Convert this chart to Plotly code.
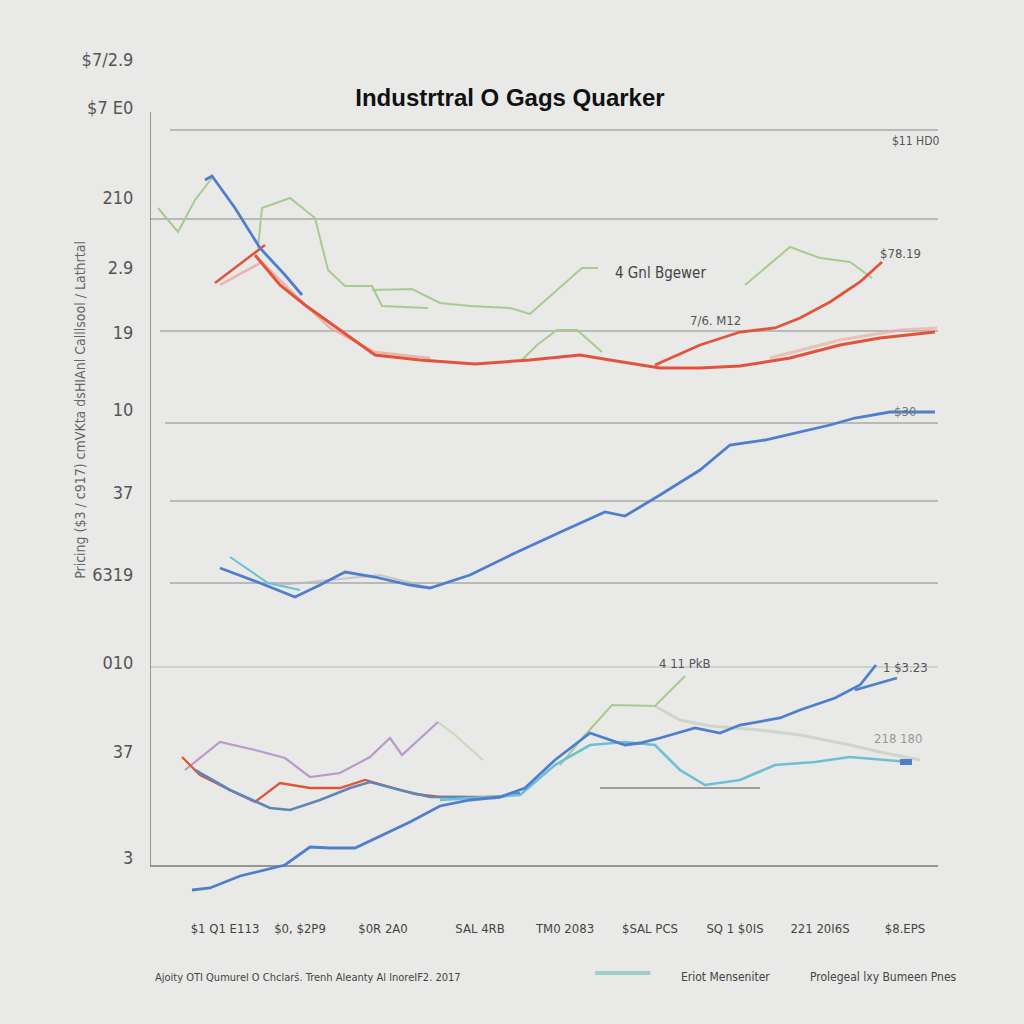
import plotly.graph_objects as go

# ---------------- data (x: period index, y: price index) ----------------
blue_top_x = [5.5, 6.2, 8.5, 11.0, 13.5, 15.2]
blue_top_y = [68.6, 69.0, 65.8, 61.8, 59.1, 57.1]

red_short_x = [6.5, 11.5]
red_short_y = [58.3, 62.1]

red_main_x = [10.5, 13.0, 15.5, 19.0, 22.5, 27.0, 32.5, 38.0, 43.0, 46.0, 51.0, 55.0, 59.0, 64.0, 69.0, 73.0, 78.5]
red_main_y = [61.1, 58.1, 56.1, 53.6, 51.1, 50.6, 50.2, 50.6, 51.1, 50.6, 49.8, 49.8, 50.0, 50.8, 52.1, 52.8, 53.4]

red_branch_x = [50.5, 55.0, 59.0, 62.5, 65.0, 68.0, 71.0, 73.2]
red_branch_y = [50.1, 52.1, 53.4, 53.8, 54.8, 56.4, 58.4, 60.4]

salmon_x = [7.0, 11.2, 15.0, 18.0, 22.5, 28.0]
salmon_y = [58.1, 60.4, 56.6, 53.8, 51.4, 50.8]
salmon_r_x = [62.0, 69.0, 75.0, 78.7]
salmon_r_y = [50.8, 52.6, 53.6, 53.8]

green_a_x = [0.8, 2.8, 4.5, 6.2]
green_a_y = [65.8, 63.4, 66.6, 68.8]
green_b_x = [10.8, 11.2, 14.0, 16.5, 17.8, 19.5, 22.2, 23.2, 27.8]
green_b_y = [61.8, 65.8, 66.8, 64.8, 59.6, 58.0, 58.0, 56.0, 55.8]
green_c_x = [22.2, 26.2, 29.0, 32.0, 36.0, 38.0, 39.8, 43.2, 44.8]
green_c_y = [57.6, 57.7, 56.3, 56.0, 55.8, 55.2, 56.8, 59.8, 59.8]
green_d_x = [37.0, 38.7, 40.7, 42.7, 45.2]
green_d_y = [50.4, 52.1, 53.6, 53.6, 51.4]
green_f_x = [59.5, 64.0, 67.0, 70.0, 72.2]
green_f_y = [58.1, 61.9, 60.8, 60.4, 58.8]

blue_mid_x = [7.0, 11.0, 14.5, 17.0, 19.5, 22.5, 26.0, 28.0, 32.0, 36.5, 41.5, 45.5, 47.5, 51.0, 55.0, 58.0, 61.5, 65.0, 68.0, 70.5, 74.0, 78.5]
blue_mid_y = [29.8, 28.3, 26.9, 28.1, 29.4, 28.9, 28.1, 27.8, 29.1, 31.3, 33.6, 35.4, 35.0, 37.1, 39.6, 42.1, 42.6, 43.4, 44.1, 44.8, 45.4, 45.4]
cyan_mid_x = [8.0, 11.8, 15.0]
cyan_mid_y = [30.9, 28.3, 27.6]
gray_mid_x = [13.0, 18.0, 23.0, 27.0]
gray_mid_y = [28.1, 28.6, 29.1, 28.1]

blue_bot_x = [4.2, 6.0, 9.0, 13.5, 16.0, 18.0, 20.5, 23.0, 26.0, 29.0, 32.0, 35.0, 37.5, 40.5, 44.0, 47.5, 49.0, 51.0, 54.5, 57.0, 59.0, 63.0, 65.0, 68.5, 71.0, 72.6]
blue_bot_y = [-2.4, -2.2, -1.0, 0.1, 1.9, 1.8, 1.8, 3.0, 4.4, 6.0, 6.6, 6.9, 7.8, 10.6, 13.3, 12.1, 12.3, 12.8, 13.8, 13.3, 14.1, 14.8, 15.6, 16.8, 18.1, 20.1]
blue_br_x = [70.5, 74.7]
blue_br_y = [17.6, 18.8]

red_bot_x = [3.2, 5.0, 8.0, 10.5, 13.0, 16.0, 19.0, 21.5, 24.0, 26.5, 29.0, 32.0, 34.7]
red_bot_y = [10.9, 9.1, 7.6, 6.4, 8.3, 7.8, 7.8, 8.6, 7.9, 7.2, 6.9, 6.9, 6.9]

steel_x = [4.5, 8, 12, 14, 17, 20, 22, 25, 28, 31, 34.5, 37]
steel_y = [9.6, 7.6, 5.8, 5.6, 6.6, 7.8, 8.4, 7.6, 6.9, 6.9, 6.8, 7.3]

purple_x = [3.5, 7, 10.5, 13.5, 16, 19, 22, 24, 25.2, 27, 28.8]
purple_y = [9.6, 12.4, 11.6, 10.8, 8.9, 9.3, 10.9, 12.8, 11.1, 12.8, 14.4]
pale_x = [28.8, 30.5, 33.3]
pale_y = [14.4, 13.1, 10.6]

teal_x = [29, 37, 40.5, 44, 47.5, 50.5, 53, 55.5, 59, 62.5, 66.5, 70, 73.5, 76]
teal_y = [6.6, 7.1, 10.1, 12.1, 12.4, 12.1, 9.6, 8.1, 8.6, 10.1, 10.4, 10.9, 10.6, 10.4]

green_bot_x = [41, 43.5, 46.2, 50.5, 53.5]
green_bot_y = [10.1, 13.1, 16.1, 16.0, 19.0]
faded_x = [50.5, 53, 56, 61, 65, 70, 73, 77]
faded_y = [16, 14.6, 14, 13.6, 13.1, 12.1, 11.4, 10.6]

dark_x = [45, 61]
dark_y = [7.8, 7.8]
blue_stub_x = [75, 76.2]
blue_stub_y = [10.4, 10.4]

x_tick_vals = [7.5, 15, 23.3, 33, 41.5, 50, 58.5, 67, 75.5]
x_tick_text = ["$1 Q1 E113", "$0, $2P9", "$0R 2A0", "SAL 4RB", "TM0 2083",
               "$SAL PCS", "SQ 1 $0IS", "221 20I6S", "$8.EPS"]
y_tick_vals = [80.6, 75.8, 66.8, 59.8, 53.3, 45.6, 37.3, 29.1, 20.3, 11.4, 0.8]
y_tick_text = ["$7/2.9", "$7 E0", "210", "2.9", "19", "10", "37", "6319", "010", "37", "3"]
grid_levels = [73.6, 64.7, 53.5, 44.3, 36.5, 28.3, 19.9]
grid_starts = [2, 0, 1, 1.5, 2, 2, -1]

# ---------------- figure ----------------
BLUE = "#4f7fcc"
RED = "#e1543b"
GREEN = "#a9cb8f"
SALMON = "#eaa89c"
PURPLE = "#b89acb"
TEAL = "#6cc0d6"
STEEL = "#5d87b6"

fig = go.Figure()


def add(x, y, color, width=2.6, opacity=1.0):
    fig.add_trace(go.Scatter(x=x, y=y, mode="lines", line=dict(color=color, width=width),
                             opacity=opacity, showlegend=False, hoverinfo="skip"))


add(green_a_x, green_a_y, GREEN, 2)
add(green_b_x, green_b_y, GREEN, 2)
add(green_c_x, green_c_y, GREEN, 2)
add(green_d_x, green_d_y, GREEN, 2)
add(green_f_x, green_f_y, GREEN, 2)
add(salmon_x, salmon_y, SALMON, 2.5, 0.8)
add(salmon_r_x, salmon_r_y, SALMON, 3, 0.6)
add(red_short_x, red_short_y, RED, 2.5)
add(blue_top_x, blue_top_y, BLUE, 2.8)
add(red_main_x, red_main_y, RED, 3)
add(red_branch_x, red_branch_y, RED, 2.8)

add(gray_mid_x, gray_mid_y, "#b9b9b9", 2, 0.7)
add(cyan_mid_x, cyan_mid_y, TEAL, 2)
add(blue_mid_x, blue_mid_y, BLUE, 2.8)

add(pale_x, pale_y, "#c9d9b9", 2)
add(purple_x, purple_y, PURPLE, 2.2)
add(red_bot_x, red_bot_y, RED, 2.3)
add(steel_x, steel_y, STEEL, 2.6)
add(faded_x, faded_y, "#c8d2c4", 3, 0.8)
add(dark_x, dark_y, "#555555", 1)
add(green_bot_x, green_bot_y, GREEN, 2)
add(teal_x, teal_y, TEAL, 2.6)
add(blue_bot_x, blue_bot_y, BLUE, 2.8)
add(blue_br_x, blue_br_y, BLUE, 2.8)
add(blue_stub_x, blue_stub_y, BLUE, 6)

shapes = []
for i, g in enumerate(grid_levels):
    shapes.append(dict(type="line", xref="x", yref="y", x0=grid_starts[i], x1=78.8, y0=g, y1=g,
                       line=dict(color="#8a8a8a" if i != 6 else "#b5b5b5", width=1.2), layer="below"))
shapes.append(dict(type="line", xref="x", yref="y", x0=0, x1=0, y0=0, y1=75.4,
                   line=dict(color="#7a7a7a", width=1.5), layer="below"))
shapes.append(dict(type="line", xref="x", yref="y", x0=0, x1=78.8, y0=0, y1=0,
                   line=dict(color="#7a7a7a", width=1.5), layer="below"))
shapes.append(dict(type="line", xref="paper", yref="paper", x0=0.565, x1=0.635, y0=-0.086, y1=-0.086,
                   line=dict(color="#9fcfc9", width=4)))

ann_font = "Liberation Sans Narrow, DejaVu Sans Condensed, Roboto, sans-serif"
annotations = [
    dict(x=-0.089, y=45.6, xref="paper", yref="y", textangle=-90,
         text="Pricing ($3 / c917) cmVKta dsHIAnl Calllsool / Lathrtal",
         font=dict(size=14, color="#666666", family=ann_font)),
    dict(x=76.5, y=72.5, text="$11 HD0", font=dict(size=12, color="#555555", family=ann_font)),
    dict(x=51, y=59.3, text="4 Gnl Bgewer", font=dict(size=15, color="#444444", family=ann_font)),
    dict(x=75, y=61.3, text="$78.19", font=dict(size=13, color="#555555", family=ann_font)),
    dict(x=56.5, y=54.6, text="7/6. M12", font=dict(size=13, color="#555555", family=ann_font)),
    dict(x=75.5, y=45.5, text="$30", font=dict(size=13, color="#777777", family=ann_font)),
    dict(x=53.5, y=20.3, text="4 11 PkB", font=dict(size=13, color="#555555", family=ann_font)),
    dict(x=75.5, y=19.9, text="1 $3.23", font=dict(size=13, color="#555555", family=ann_font)),
    dict(x=74.8, y=12.8, text="218 180", font=dict(size=13, color="#999999", family=ann_font)),
    dict(x=0.2, y=-0.0906, xref="paper", yref="paper",
         text="Ajoity OTI Qumurel O Chclarš. Trenh Aleanty Al lnoreIF2. 2017",
         font=dict(size=11, color="#444444", family=ann_font)),
    dict(x=0.73, y=-0.0906, xref="paper", yref="paper", text="Eriot Menseniter",
         font=dict(size=12, color="#444444", family=ann_font)),
    dict(x=0.931, y=-0.0906, xref="paper", yref="paper", text="Prolegeal lxy Bumeen Pnes",
         font=dict(size=12, color="#444444", family=ann_font)),
]
for a in annotations:
    a.setdefault("showarrow", False)
    a.setdefault("xref", "x")
    a.setdefault("yref", "y")
    a.setdefault("xanchor", "center")
    a.setdefault("yanchor", "middle")

fig.update_layout(
    width=1024, height=1024,
    paper_bgcolor="#e9e9e7", plot_bgcolor="#e9e9e7",
    margin=dict(l=150, r=86, t=50, b=124),
    title=dict(text="<b>Industrtral O Gags Quarker</b>", x=0.498, xanchor="center",
               y=0.905, yanchor="middle", yref="container",
               font=dict(size=24, color="#111111", family="Liberation Sans Narrow, Arial, sans-serif")),
    xaxis=dict(range=[0, 78.8], showgrid=False, zeroline=False, showline=False,
               tickvals=x_tick_vals, ticktext=x_tick_text, ticks="outside", ticklen=16,
               tickcolor="rgba(0,0,0,0)", tickfont=dict(size=13, color="#444444", family=ann_font)),
    yaxis=dict(range=[-3.4, 81.6], showgrid=False, zeroline=False, showline=False,
               tickvals=y_tick_vals, ticktext=y_tick_text, ticks="outside", ticklen=12,
               tickcolor="rgba(0,0,0,0)", tickfont=dict(size=18, color="#555555", family=ann_font)),
    shapes=shapes, annotations=annotations, showlegend=False,
)

fig.write_html("out.html", config={"displayModeBar": False},
               post_script="document.body.style.margin='0';")
